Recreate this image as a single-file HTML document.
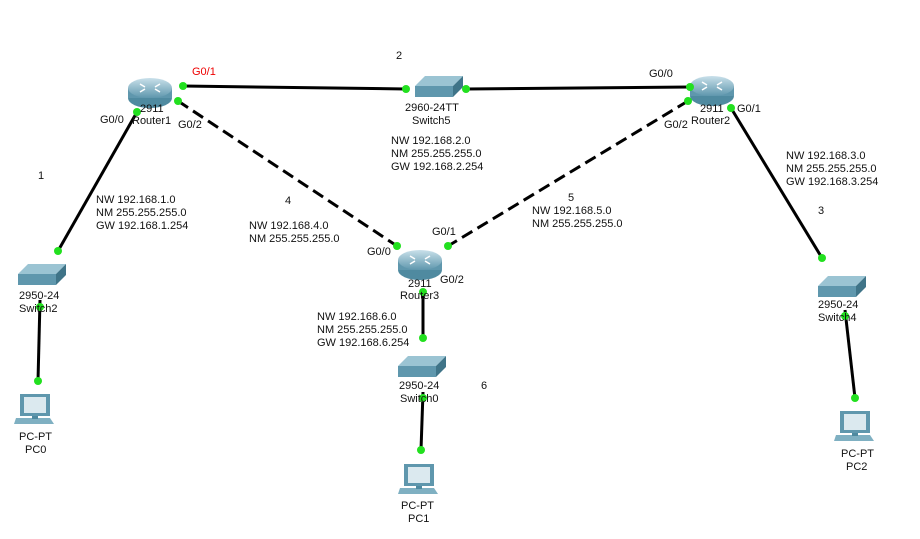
<!DOCTYPE html>
<html><head><meta charset="utf-8"><style>
html,body{margin:0;padding:0;background:#fff;}
svg text{font-family:"Liberation Sans",sans-serif;font-size:11px;fill:#111;}
</style></head><body>
<svg width="920" height="534" viewBox="0 0 920 534" xmlns="http://www.w3.org/2000/svg">
<defs>
<linearGradient id="rt" x1="0" y1="0" x2="0" y2="1"><stop offset="0" stop-color="#c9e0ea"/><stop offset="1" stop-color="#5f97ad"/></linearGradient>
<g id="router">
 <ellipse cx="0" cy="6" rx="22" ry="10" fill="#4f8aa0"/>
 <rect x="-22" y="-4" width="44" height="10" fill="#5f97ad"/>
 <ellipse cx="0" cy="-4" rx="22" ry="10" fill="url(#rt)"/>
 <path d="M-10 -8 l5 3 M10 -8 l-5 3 M-10 0 l5 -3 M10 0 l-5 -3" stroke="#fff" stroke-width="1.5"/>
</g>
<g id="switch">
 <polygon points="-22,-6 -12,-16 26,-16 16,-6" fill="#9bc4d3"/>
 <rect x="-22" y="-6" width="38" height="11" fill="#5f97ad"/>
 <polygon points="16,-6 26,-16 26,-5 16,5" fill="#3f7488"/>
</g>
<g id="pc">
 <rect x="-16" y="-18" width="30" height="22" fill="#5f97ad"/>
 <rect x="-12" y="-15" width="22" height="16" fill="#dbe9ef"/>
 <polygon points="-20,6 14,6 18,12 -22,12" fill="#7fb0c2"/>
 <rect x="-4" y="4" width="6" height="3" fill="#4f8aa0"/>
</g>
</defs>
<g stroke="#000" stroke-width="3" fill="none">
<line x1="183" y1="86" x2="406" y2="89"/>
<line x1="466" y1="89" x2="690" y2="87"/>
<line x1="137" y1="112" x2="58" y2="251"/>
<line x1="40" y1="300" x2="38" y2="381"/>
<line x1="731" y1="108" x2="822" y2="258"/>
<line x1="845" y1="310" x2="855" y2="398"/>
<line x1="423" y1="292" x2="423" y2="338"/>
<line x1="423" y1="392" x2="421" y2="450"/>
<line x1="178" y1="101" x2="397" y2="246" stroke-dasharray="12,6"/>
<line x1="688" y1="101" x2="448" y2="246" stroke-dasharray="12,6"/>
</g>
<use href="#router" x="150" y="92"/>
<use href="#router" x="712" y="90"/>
<use href="#router" x="420" y="264"/>
<use href="#switch" x="437" y="92"/>
<use href="#switch" x="40" y="280"/>
<use href="#switch" x="840" y="292"/>
<use href="#switch" x="420" y="372"/>
<use href="#pc" x="36" y="412"/>
<use href="#pc" x="420" y="482"/>
<use href="#pc" x="856" y="429"/>
<g fill="#22e01f">
<circle cx="183" cy="86" r="4"/><circle cx="178" cy="101" r="4"/><circle cx="137" cy="112" r="4"/>
<circle cx="406" cy="89" r="4"/><circle cx="466" cy="89" r="4"/>
<circle cx="690" cy="87" r="4"/><circle cx="688" cy="101" r="4"/><circle cx="731" cy="108" r="4"/>
<circle cx="58" cy="251" r="4"/><circle cx="40" cy="307" r="4"/><circle cx="38" cy="381" r="4"/>
<circle cx="822" cy="258" r="4"/><circle cx="845" cy="316" r="4"/><circle cx="855" cy="398" r="4"/>
<circle cx="397" cy="246" r="4"/><circle cx="448" cy="246" r="4"/><circle cx="423" cy="292" r="4"/>
<circle cx="423" cy="338" r="4"/><circle cx="423" cy="398" r="4"/><circle cx="421" cy="450" r="4"/>
</g>
<text x="192" y="75" style="fill:#e00">G0/1</text>
<text x="140" y="112">2911</text><text x="132" y="124">Router1</text>
<text x="100" y="123">G0/0</text><text x="178" y="128">G0/2</text>
<text x="396" y="59">2</text>
<text x="405" y="111">2960-24TT</text><text x="412" y="124">Switch5</text>
<text x="391" y="144">NW 192.168.2.0</text><text x="391" y="157">NM 255.255.255.0</text><text x="391" y="170">GW 192.168.2.254</text>
<text x="649" y="77">G0/0</text><text x="700" y="112">2911</text><text x="691" y="124">Router2</text>
<text x="737" y="112">G0/1</text><text x="664" y="128">G0/2</text>
<text x="38" y="179">1</text>
<text x="96" y="203">NW 192.168.1.0</text><text x="96" y="216">NM 255.255.255.0</text><text x="96" y="229">GW 192.168.1.254</text>
<text x="285" y="204">4</text>
<text x="249" y="229">NW 192.168.4.0</text><text x="249" y="242">NM 255.255.255.0</text>
<text x="568" y="201">5</text>
<text x="532" y="214">NW 192.168.5.0</text><text x="532" y="227">NM 255.255.255.0</text>
<text x="786" y="159">NW 192.168.3.0</text><text x="786" y="172">NM 255.255.255.0</text><text x="786" y="185">GW 192.168.3.254</text>
<text x="818" y="214">3</text>
<text x="432" y="235">G0/1</text><text x="367" y="255">G0/0</text><text x="440" y="283">G0/2</text>
<text x="408" y="287">2911</text><text x="400" y="299">Router3</text>
<text x="317" y="320">NW 192.168.6.0</text><text x="317" y="333">NM 255.255.255.0</text><text x="317" y="346">GW 192.168.6.254</text>
<text x="399" y="389">2950-24</text><text x="400" y="402">Switch0</text>
<text x="481" y="389">6</text>
<text x="19" y="299">2950-24</text><text x="19" y="312">Switch2</text>
<text x="818" y="308">2950-24</text><text x="818" y="321">Switch4</text>
<text x="19" y="440">PC-PT</text><text x="25" y="453">PC0</text>
<text x="401" y="509">PC-PT</text><text x="408" y="522">PC1</text>
<text x="841" y="457">PC-PT</text><text x="846" y="470">PC2</text>
</svg>
</body></html>
